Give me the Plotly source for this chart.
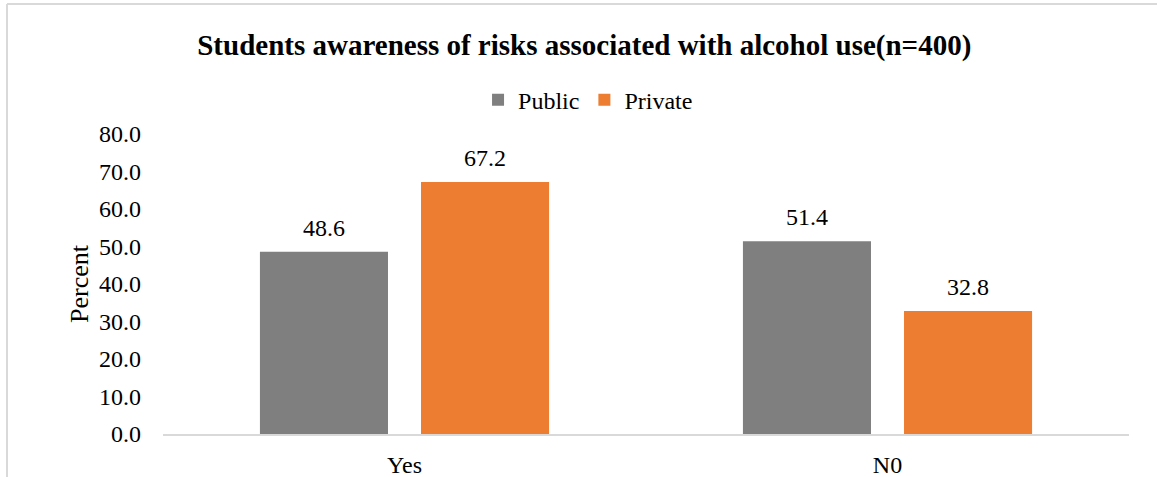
import plotly.graph_objects as go

categories = ["Yes", "N0"]
public_vals = [48.6, 51.4]
private_vals = [67.2, 32.8]
y_ticks = [0, 10, 20, 30, 40, 50, 60, 70, 80]
y_tick_labels = [f"{v:.1f}" for v in y_ticks]

FONT = "Liberation Serif, Times New Roman, serif"
FS = 24

fig = go.Figure()
fig.add_trace(go.Bar(name="Public", x=categories, y=public_vals,
                     marker=dict(color="#7f7f7f", line=dict(width=0))))
fig.add_trace(go.Bar(name="Private", x=categories, y=private_vals,
                     marker=dict(color="#ed7d31", line=dict(width=0))))

annotations = []
for vals, shift in ((public_vals, -80.5), (private_vals, 80.5)):
    for c, v in zip(categories, vals):
        annotations.append(dict(x=c, y=v, xref="x", yref="y", text=f"{v:.1f}",
                                showarrow=False, xshift=shift, yshift=24,
                                yanchor="middle", xanchor="center",
                                font=dict(family=FONT, size=FS, color="#000")))

fig.update_layout(
    width=1157, height=477,
    margin=dict(l=163, r=28, t=134, b=43, autoexpand=False),
    paper_bgcolor="white", plot_bgcolor="white",
    font=dict(family=FONT, size=FS, color="#000"),
    title=dict(text="<b>Students awareness of risks associated with alcohol use(n=400)</b>",
               x=0.505, xanchor="center", y=0.906, yanchor="middle",
               font=dict(family=FONT, size=29, color="#000")),
    barmode="group", bargap=0.333, bargroupgap=0.205,
    legend=dict(orientation="h", x=0.44, xanchor="center", y=1.113, yanchor="middle",
                font=dict(family=FONT, size=FS), traceorder="normal",
                bgcolor="rgba(0,0,0,0)"),
    showlegend=True,
    annotations=annotations,
    xaxis=dict(showline=True, linecolor="#d9d9d9", linewidth=2, ticks="",
               ticklabelstandoff=8, automargin=False,
               tickfont=dict(family=FONT, size=FS), showgrid=False),
    yaxis=dict(range=[0, 80], tickvals=y_ticks, ticktext=y_tick_labels,
               showgrid=False, zeroline=False, showline=False, ticks="",
               ticklabelstandoff=21, automargin=False,
               tickfont=dict(family=FONT, size=FS),
               title=dict(text="Percent", font=dict(family=FONT, size=26), standoff=2)),
    shapes=[
        dict(type="line", xref="paper", yref="paper", x0=-0.1615, x1=1.1, y0=1.4333, y1=1.4333,
             line=dict(color="#d9d9d9", width=2)),
        dict(type="line", xref="paper", yref="paper", x0=-0.1615, x1=-0.1615, y0=1.4333, y1=-0.2,
             line=dict(color="#d9d9d9", width=2)),
    ],
)

fig.write_html("out.html", config={"displayModeBar": False},
               post_script="document.body.style.margin='0';")
